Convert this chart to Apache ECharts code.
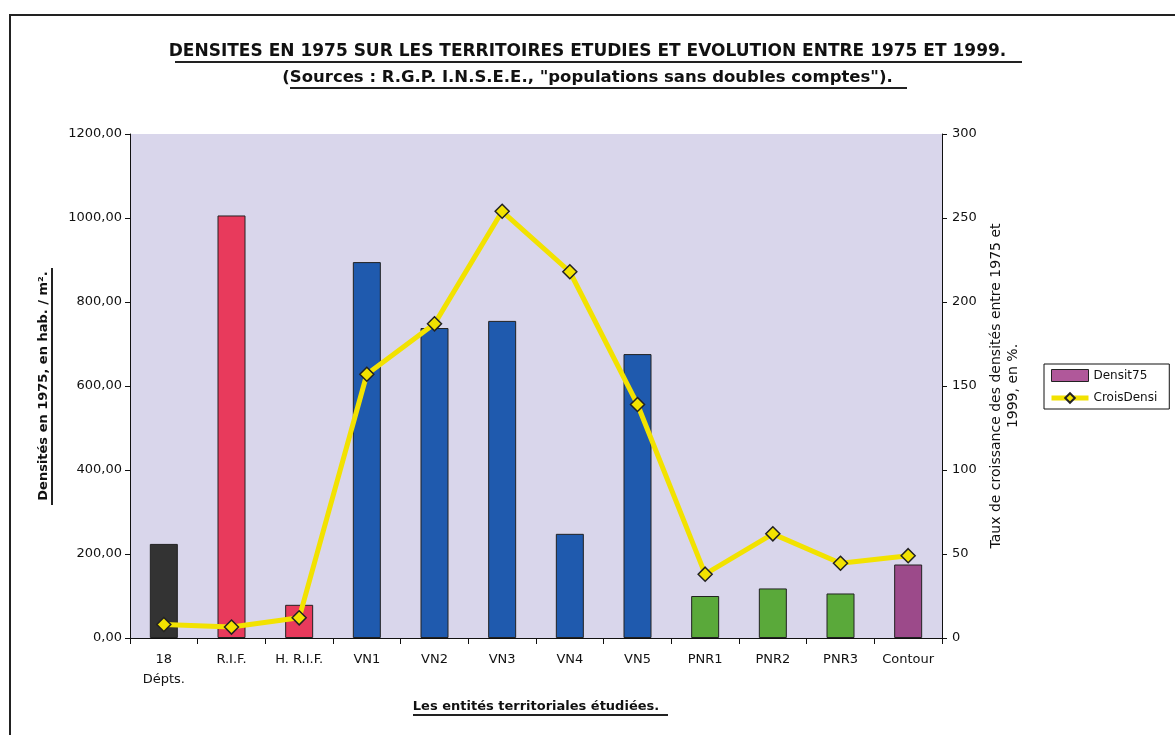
<!DOCTYPE html>
<html>
<head>
<meta charset="utf-8">
<script src="https://cdn.jsdelivr.net/npm/echarts@6/dist/echarts.min.js"></script>
<style>
  html, body { margin: 0; padding: 0; background: #fff; }
  #main { width: 1175px; height: 735px; }
</style>
</head>
<body>
<div id="main"></div>
<script>
// categories and values
var categories = ['18\nDépts.', 'R.I.F.', 'H. R.I.F.', 'VN1', 'VN2', 'VN3', 'VN4', 'VN5', 'PNR1', 'PNR2', 'PNR3', 'Contour'];
var densit75 = [224, 1006, 79, 895, 738, 755, 248, 676, 100, 118, 106, 175];
var croisDensi = [8, 6.5, 12, 157, 187, 254, 218, 139, 38, 62, 44.5, 49];
var barColors = ['#333333', '#e83a5c', '#e83a5c', '#1f5aae', '#1f5aae', '#1f5aae', '#1f5aae', '#1f5aae', '#5aa93a', '#5aa93a', '#5aa93a', '#9c4a8a'];

var dom = document.getElementById('main');
var myChart = echarts.init(dom);

var font = 'DejaVu Sans, Verdana, sans-serif';

var barData = densit75.map(function (v, i) {
    return { value: v, itemStyle: { color: barColors[i] } };
});

var option = {
    backgroundColor: '#ffffff',
    animation: false,
    title: [
        {
            text: 'DENSITES EN 1975 SUR LES TERRITOIRES ETUDIES ET EVOLUTION ENTRE 1975 ET 1999.',
            left: 'center', top: 38,
            textStyle: { fontFamily: font, fontSize: 17, fontWeight: 'bold', color: '#111' }
        },
        {
            text: '(Sources : R.G.P. I.N.S.E.E., "populations sans doubles comptes").',
            left: 'center', top: 64,
            textStyle: { fontFamily: font, fontSize: 16.5, fontWeight: 'bold', color: '#111' }
        }
    ],
    legend: {
        orient: 'vertical',
        left: 1044, top: 364,
        itemWidth: 37, itemHeight: 12,
        itemGap: 10,
        padding: [5, 12, 5, 5],
        backgroundColor: '#fff',
        borderColor: '#111', borderWidth: 1,
        textStyle: { fontFamily: font, fontSize: 12, color: '#111' },
        data: [
            { name: 'Densit75', icon: 'rect', itemStyle: { color: '#b0589a', borderColor: '#222', borderWidth: 1 } },
            { name: 'CroisDensi', lineStyle: { width: 5, color: '#f2e200' } }
        ]
    },
    grid: {
        left: 130, right: 233, top: 134, bottom: 97,
        show: true, backgroundColor: '#d9d6eb', borderWidth: 0
    },
    xAxis: {
        type: 'category',
        data: categories,
        axisLine: { lineStyle: { color: '#111', width: 1 } },
        axisTick: { show: true, length: 6, lineStyle: { color: '#111' } },
        axisLabel: { fontFamily: font, fontSize: 13, color: '#111', margin: 12, lineHeight: 20,
            align: 'center' },
        name: 'Les entités territoriales étudiées.',
        nameLocation: 'middle', nameGap: 62,
        nameTextStyle: { fontFamily: font, fontSize: 13, fontWeight: 'bold', color: '#111' }
    },
    yAxis: [
        {
            type: 'value', min: 0, max: 1200, interval: 200,
            position: 'left',
            axisLine: { show: true, lineStyle: { color: '#111' } },
            axisTick: { show: true, length: 5, lineStyle: { color: '#111' } },
            splitLine: { show: false },
            axisLabel: { fontFamily: font, fontSize: 13, color: '#111', margin: 8,
                formatter: function (v) { return v.toFixed(2).replace('.', ','); } },
            name: 'Densités en 1975, en hab. / m².',
            nameLocation: 'middle', nameGap: 80, nameRotate: 90,
            nameTextStyle: { fontFamily: font, fontSize: 13, fontWeight: 'bold', color: '#111' }
        },
        {
            type: 'value', min: 0, max: 300, interval: 50,
            position: 'right',
            axisLine: { show: true, lineStyle: { color: '#111' } },
            axisTick: { show: true, length: 5, lineStyle: { color: '#111' } },
            splitLine: { show: false },
            axisLabel: { fontFamily: font, fontSize: 13, color: '#111', margin: 10 },
            name: 'Taux de croissance des densités entre 1975 et\n1999, en %.',
            nameLocation: 'middle', nameGap: 44, nameRotate: 90,
            nameTextStyle: { fontFamily: font, fontSize: 14, color: '#111', lineHeight: 17 }
        }
    ],
    series: [
        {
            name: 'Densit75',
            type: 'bar',
            yAxisIndex: 0,
            barWidth: 28,
            itemStyle: { color: '#b0589a', borderColor: '#222', borderWidth: 1 },
            data: barData
        },
        {
            name: 'CroisDensi',
            type: 'line',
            yAxisIndex: 1,
            symbol: 'diamond',
            symbolSize: 14,
            lineStyle: { color: '#f2e200', width: 5 },
            itemStyle: { color: '#f2e200', borderColor: '#222', borderWidth: 1.5 },
            data: croisDensi,
            z: 5
        }
    ],
    graphic: [
        { type: 'rect', shape: { x: 10, y: 15, width: 1180, height: 740 },
          style: { fill: 'none', stroke: '#222', lineWidth: 2 }, silent: true },
        { type: 'line', shape: { x1: 175, y1: 62, x2: 1022, y2: 62 }, style: { stroke: '#222', lineWidth: 2 } },
        { type: 'line', shape: { x1: 290, y1: 88, x2: 907, y2: 88 }, style: { stroke: '#222', lineWidth: 2 } },
        { type: 'line', shape: { x1: 52, y1: 268, x2: 52, y2: 505 }, style: { stroke: '#222', lineWidth: 2 } },
        { type: 'line', shape: { x1: 413, y1: 715, x2: 668, y2: 715 }, style: { stroke: '#222', lineWidth: 2 } }
    ]
};

myChart.setOption(option, true);
window.onresize = function () {
    myChart.resize();
};
</script>
</body>
</html>
